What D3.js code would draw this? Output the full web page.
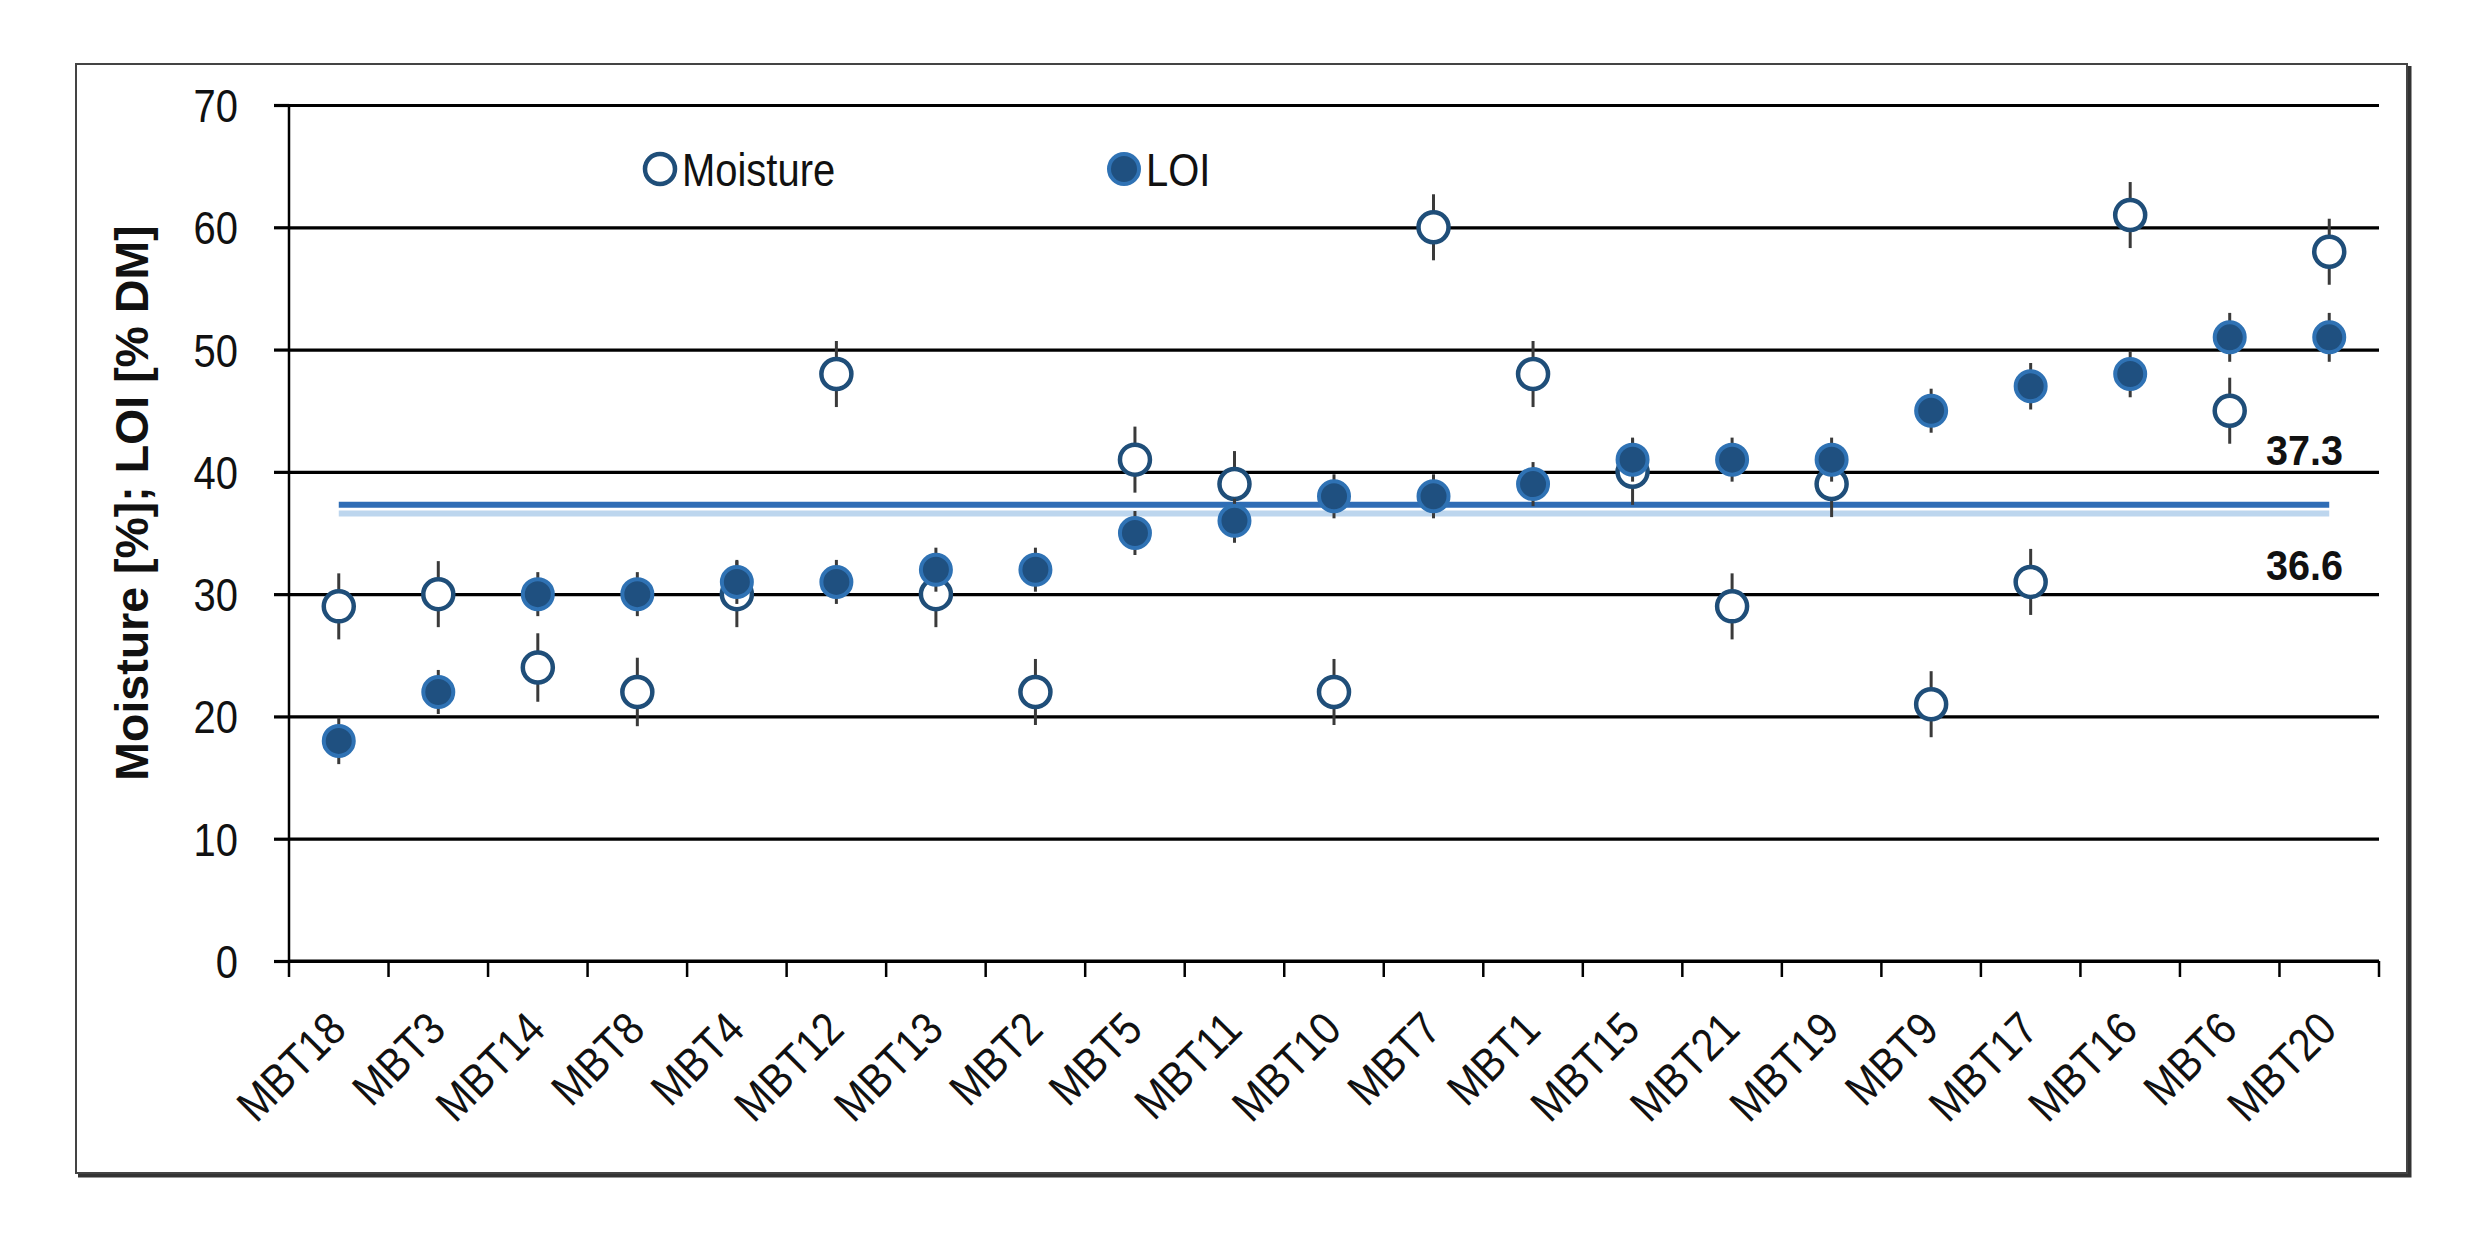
<!DOCTYPE html>
<html>
<head>
<meta charset="utf-8">
<script src="https://cdn.jsdelivr.net/npm/d3@7/dist/d3.min.js"></script>
<style>
  html, body { margin: 0; padding: 0; background: #fff; }
  svg { display: block; }
  text { font-family: "Liberation Sans", Arial, sans-serif; }
</style>
</head>
<body>
<svg id="chart" width="2482" height="1241"></svg>
<script>
const categories = ["MBT18","MBT3","MBT14","MBT8","MBT4","MBT12","MBT13","MBT2","MBT5","MBT11","MBT10","MBT7","MBT1","MBT15","MBT21","MBT19","MBT9","MBT17","MBT16","MBT6","MBT20"];
const moisture    = [29, 30, 24, 22, 30, 48, 30, 22, 41, 39, 22, 60, 48, 40, 29, 39, 21, 31, 61, 45, 58];
const moistureErr = [2.7,2.7,2.8,2.8,2.7,2.7,2.7,2.7,2.7,2.7,2.7,2.7,2.7,2.7,2.7,2.7,2.7,2.7,2.7,2.7,2.7];
const loi         = [18, 22, 30, 30, 31, 31, 32, 32, 35, 36, 38, 38, 39, 41, 41, 41, 45, 47, 48, 51, 51];
const loiErr      = [1.9,1.8,1.8,1.8,1.8,1.8,1.8,1.8,1.8,1.8,1.8,1.8,1.8,1.8,1.8,1.8,1.8,1.9,1.9,2.0,2.0];
const yTicks = [0, 10, 20, 30, 40, 50, 60, 70];
const refValues = [37.3, 36.6];
const refLabels = ["37.3", "36.6"];
const seriesNames = ["Moisture", "LOI"];
const yTitle = "Moisture [%]; LOI [% DM]";

const NARROW = 0.85;
const svg = d3.select("#chart");
svg.append("rect").attr("width", 2482).attr("height", 1241).attr("fill", "#fff");

// outer frame with shadow
svg.append("path").attr("d", "M2409,66 L2409,1175 L78,1175").attr("fill", "none").attr("stroke", "#333").attr("stroke-width", 5);
svg.append("rect").attr("x", 76).attr("y", 64).attr("width", 2331).attr("height", 1109)
   .attr("fill", "none").attr("stroke", "#444").attr("stroke-width", 2);

const L = 289, R = 2379, T = 105, B = 961;
const x = d3.scaleBand().domain(categories).range([L, R]).padding(0);
const y = d3.scaleLinear().domain([0, 70]).range([B, T]);
const cx = c => x(c) + x.bandwidth() / 2;

// gridlines
const grid = svg.append("g").attr("transform", `translate(${L},0)`)
  .call(d3.axisLeft(y).tickValues(yTicks).tickSize(-(R - L)).tickFormat(""));
grid.select(".domain").remove();
grid.selectAll("line").attr("stroke", "#000").attr("stroke-width", 3.2);

// y axis with labels
const yAx = svg.append("g").attr("transform", `translate(${L},0)`)
  .call(d3.axisLeft(y).tickValues(yTicks).tickSize(15).tickPadding(36));
yAx.select(".domain").attr("stroke", "#000").attr("stroke-width", 2.5).attr("d", `M0,${B}V${T}`);
yAx.selectAll("line").attr("stroke", "#000").attr("stroke-width", 3.2);
yAx.selectAll("text")
  .attr("font-size", 47).attr("fill", "#111")
  .attr("x", 0).attr("dy", "0.35em")
  .attr("transform", `translate(-51,0) scale(${NARROW},1)`);

// x axis
const xAx = svg.append("g").attr("transform", `translate(0,${B})`)
  .call(d3.axisBottom(x).tickSize(0).tickPadding(0));
xAx.select(".domain").attr("stroke", "#000").attr("stroke-width", 3.2).attr("d", `M${L},0H${R}`);
xAx.selectAll("text")
  .attr("font-size", 46).attr("fill", "#111")
  .attr("text-anchor", "end").attr("x", 0).attr("y", 0).attr("dy", "0.36em")
  .attr("transform", `translate(-2,59) rotate(-45) scale(0.88,1)`);
// boundary tick marks
const bounds = categories.map(c => x(c)).concat([x(categories[categories.length - 1]) + x.bandwidth()]);
svg.append("g").selectAll("line").data(bounds).join("line")
  .attr("x1", d => d).attr("x2", d => d).attr("y1", B).attr("y2", B + 16)
  .attr("stroke", "#000").attr("stroke-width", 2.5);

// y title
svg.append("text")
  .attr("transform", `translate(148,${(T + B) / 2 - 30}) rotate(-90)`)
  .attr("text-anchor", "middle")
  .attr("font-weight", "bold").attr("font-size", 46.5).attr("fill", "#111")
  .text(yTitle);

// reference lines
const refColors = ["#2f6db5", "#bdd6ee"];
svg.append("g").selectAll("line").data(refValues).join("line")
  .attr("x1", cx(categories[0])).attr("x2", cx(categories[categories.length - 1]))
  .attr("y1", d => y(d)).attr("y2", d => y(d))
  .attr("stroke", (d, i) => refColors[i]).attr("stroke-width", 6);
const refLabelY = [y(refValues[0]) - 40, y(refValues[1]) + 67];
svg.append("g").selectAll("text").data(refLabels).join("text")
  .attr("font-weight", "bold").attr("font-size", 43).attr("fill", "#111")
  .attr("text-anchor", "end")
  .attr("transform", (d, i) => `translate(2343,${refLabelY[i]}) scale(0.92,1)`)
  .text(d => d);

// moisture series
const mg = svg.append("g");
mg.selectAll("line").data(categories).join("line")
  .attr("x1", d => cx(d)).attr("x2", d => cx(d))
  .attr("y1", (d, i) => y(moisture[i] - moistureErr[i])).attr("y2", (d, i) => y(moisture[i] + moistureErr[i]))
  .attr("stroke", "#3a3a3a").attr("stroke-width", 3);
mg.selectAll("circle").data(categories).join("circle")
  .attr("cx", d => cx(d)).attr("cy", (d, i) => y(moisture[i]))
  .attr("r", 15)
  .attr("fill", "#fff").attr("stroke", "#1f4e79").attr("stroke-width", 4.5);

// LOI series
const lg = svg.append("g");
lg.selectAll("line").data(categories).join("line")
  .attr("x1", d => cx(d)).attr("x2", d => cx(d))
  .attr("y1", (d, i) => y(loi[i] - loiErr[i])).attr("y2", (d, i) => y(loi[i] + loiErr[i]))
  .attr("stroke", "#3a3a3a").attr("stroke-width", 3);
lg.selectAll("circle").data(categories).join("circle")
  .attr("cx", d => cx(d)).attr("cy", (d, i) => y(loi[i]))
  .attr("r", 15)
  .attr("fill", "#1f5080").attr("stroke", "#2f72b4").attr("stroke-width", 4);

// legend
const legendX = [660, 1124];
const legend = svg.append("g");
seriesNames.forEach((name, i) => {
  const g = legend.append("g").attr("transform", `translate(${legendX[i]},169)`);
  g.append("circle").attr("r", 15)
    .attr("fill", i === 0 ? "#fff" : "#1f5080")
    .attr("stroke", i === 0 ? "#1f4e79" : "#2f72b4").attr("stroke-width", i === 0 ? 4.5 : 4);
  g.append("text").attr("transform", `translate(22,0) scale(${NARROW},1)`).attr("dy", "0.36em")
    .attr("font-size", 47).attr("fill", "#111").text(name);
});
</script>
</body>
</html>
